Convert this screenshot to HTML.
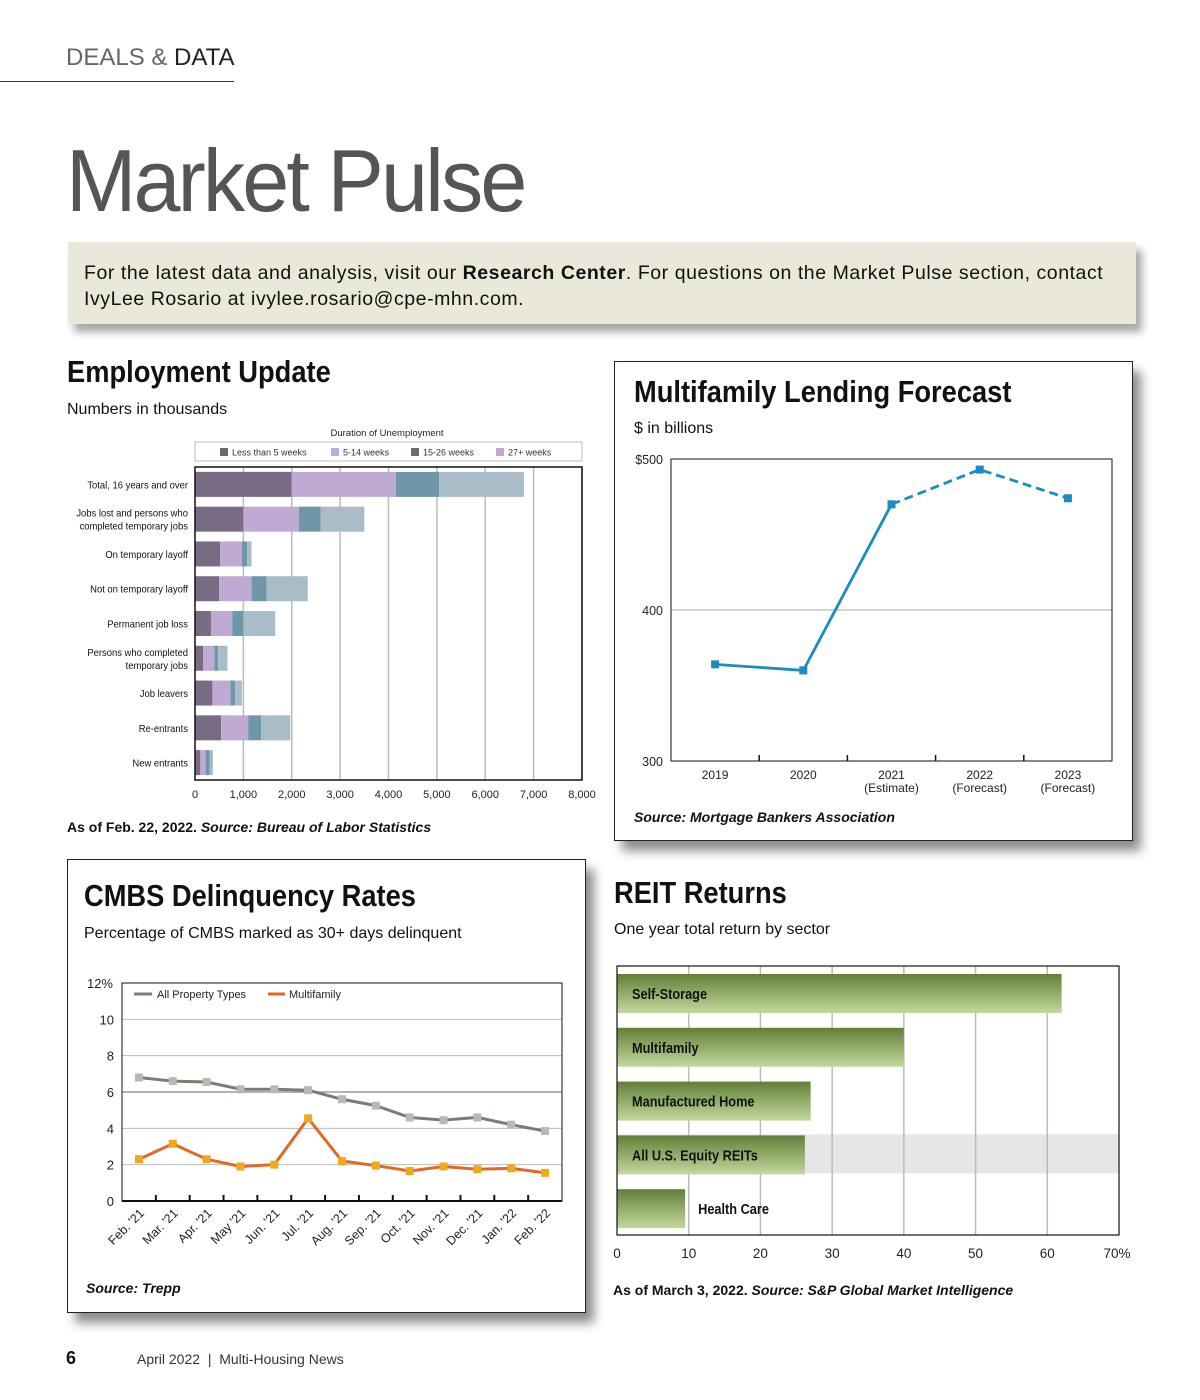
<!DOCTYPE html>
<html><head><meta charset="utf-8">
<style>
body{margin:0;background:#fff;}
#page{position:relative;width:1200px;height:1400px;overflow:hidden;background:#fff;font-family:"Liberation Sans",sans-serif;color:#111;}
.abs{position:absolute;}
.narrow{font-family:"Liberation Sans Narrow","Liberation Sans",sans-serif;font-weight:bold;transform:scaleX(0.88);transform-origin:left top;white-space:nowrap;}
.box{position:absolute;border:1px solid #222;background:#fff;box-shadow:8px 10px 10px rgba(0,0,0,0.45);}
svg text{font-family:"Liberation Sans",sans-serif;}
</style></head><body>
<div id="page">
<div class="abs" style="left:66px;top:44px;font-size:24px;color:#666;">DEALS &amp; <span style="color:#222">DATA</span></div>
<div class="abs" style="left:0;top:81px;width:234px;height:1px;background:#333;"></div>
<div class="abs" style="left:66px;top:130px;font-size:88px;font-weight:300;color:#555;letter-spacing:-3px;transform:scaleX(0.96);transform-origin:left top;white-space:nowrap;">Market Pulse</div>
<div class="abs" style="left:68px;top:242px;width:1052px;height:64px;padding:18px 0 0 16px;background:#e9e8d9;box-shadow:6px 8px 8px rgba(0,0,0,0.35);font-size:19.5px;line-height:26px;color:#111;letter-spacing:0.55px;">For the latest data and analysis, visit our <b>Research Center</b>. For questions on the Market Pulse section, contact IvyLee Rosario at ivylee.rosario@cpe-mhn.com.</div>

<!-- Employment -->
<div class="abs narrow" style="left:67px;top:354px;font-size:31px;">Employment Update</div>
<div class="abs" style="left:67px;top:401px;font-size:16px;">Numbers in thousands</div>
<svg class="abs" id="emp" style="left:0;top:0" width="600" height="820"></svg>
<div class="abs" style="left:67px;top:819px;font-size:14px;font-weight:bold;">As of Feb. 22, 2022. <i>Source: Bureau of Labor Statistics</i></div>

<!-- Lending -->
<div class="box" style="left:614px;top:361px;width:517px;height:478px;"></div>
<div class="abs narrow" style="left:634px;top:374px;font-size:31px;">Multifamily Lending Forecast</div>
<div class="abs" style="left:634px;top:420px;font-size:16px;">$ in billions</div>
<svg class="abs" id="lend" style="left:0;top:0" width="1200" height="820"></svg>
<div class="abs" style="left:634px;top:809px;font-size:14px;font-weight:bold;font-style:italic;">Source: Mortgage Bankers Association</div>

<!-- CMBS -->
<div class="box" style="left:67px;top:859px;width:517px;height:452px;"></div>
<div class="abs narrow" style="left:84px;top:878px;font-size:31px;">CMBS Delinquency Rates</div>
<div class="abs" style="left:84px;top:925px;font-size:16px;">Percentage of CMBS marked as 30+ days delinquent</div>
<svg class="abs" id="cmbs" style="left:0;top:0" width="600" height="1300"></svg>
<div class="abs" style="left:86px;top:1280px;font-size:14px;font-weight:bold;font-style:italic;">Source: Trepp</div>

<!-- REIT -->
<div class="abs narrow" style="left:614px;top:875px;font-size:31px;">REIT Returns</div>
<div class="abs" style="left:614px;top:921px;font-size:16px;">One year total return by sector</div>
<svg class="abs" id="reit" style="left:0;top:0" width="1200" height="1270"></svg>
<div class="abs" style="left:613px;top:1282px;font-size:14px;font-weight:bold;">As of March 3, 2022. <i>Source: S&amp;P Global Market Intelligence</i></div>

<div class="abs" style="left:66px;top:1348px;font-size:18px;font-weight:bold;">6</div>
<div class="abs" style="left:137px;top:1351px;font-size:14px;color:#333;">April 2022 &nbsp;|&nbsp; Multi-Housing News</div>
</div>
<script>
const NS="http://www.w3.org/2000/svg";
function mk(svg,tag,attrs,txt){const e=document.createElementNS(NS,tag);for(const k in attrs)e.setAttribute(k,attrs[k]);if(txt!==undefined)e.textContent=txt;svg.appendChild(e);return e;}

// ---------- Employment data ----------
const empCategories=[["Total, 16 years and over"],["Jobs lost and persons who","completed temporary jobs"],["On temporary layoff"],["Not on temporary layoff"],["Permanent job loss"],["Persons who completed","temporary jobs"],["Job leavers"],["Re-entrants"],["New entrants"]];
const empLess5=[2000,1000,520,500,330,170,360,540,110];
const emp5to14=[2150,1150,450,670,440,230,370,560,110];
const emp15to26=[900,450,110,310,230,80,100,270,80];
const emp27plus=[1750,900,90,850,660,190,140,600,70];
const empSeriesNames=["Less than 5 weeks","5-14 weeks","15-26 weeks","27+ weeks"];
const empTicks=[0,1000,2000,3000,4000,5000,6000,7000,8000];
(function(){
 const s=document.getElementById('emp');
 const x0=195,x1=582,y0=467,y1=780,max=8000;
 const X=v=>x0+(x1-x0)*v/max;
 const rowH=(y1-y0)/empCategories.length;
 const cols=["#7a6b84","#c0a9d2","#6f97a8","#aabcc7"];
 const legCols=["#6f6679","#c0a9d2","#6f6679","#c0a9d2"];
 mk(s,'text',{x:387,y:436,'font-size':9.5,'text-anchor':'middle',fill:'#222'},"Duration of Unemployment");
 const lb=mk(s,'rect',{x:195,y:442,width:387,height:19,fill:'#fff',stroke:'#bbb'});
 
 const lx=[220,331,411,496];
 empSeriesNames.forEach((n,i)=>{
  const r=mk(s,'rect',{x:lx[i],y:448,width:8,height:8,fill:legCols[i]});
  
  const t=mk(s,'text',{x:lx[i]+12,y:455.5,'font-size':9,fill:'#333'},n);
  
 });
 empTicks.forEach(v=>{
  if(v>0){const g=mk(s,'line',{x1:X(v),x2:X(v),y1:y0,y2:y1,stroke:'#bbb','stroke-width':1.5});}
  const t=mk(s,'text',{x:X(v),y:798,'font-size':11,'text-anchor':'middle',fill:'#222'},v.toLocaleString('en-US'));
  
 });
 const series=[empLess5,emp5to14,emp15to26,emp27plus];
 empCategories.forEach((c,i)=>{
  const cy=y0+rowH*(i+0.5);
  let acc=0;
  series.forEach((arr,k)=>{
   const b=mk(s,'rect',{x:X(acc),y:cy-12.5,width:X(acc+arr[i])-X(acc),height:25,fill:cols[k]});
   
   acc+=arr[i];
  });
  c.forEach((ln,j)=>{
   const ty=cy+4+(j-(c.length-1)/2)*13;
   const t=mk(s,'text',{x:188,y:ty,'font-size':10.5,'text-anchor':'end',fill:'#111',transform:`translate(188 0) scale(0.9 1) translate(-188 0)`},ln);
   
  });
 });
 const fr=mk(s,'rect',{x:x0,y:y0,width:x1-x0,height:y1-y0,fill:'none',stroke:'#111','stroke-width':1.5});
 
})();

// ---------- Lending data ----------
const lendYears=["2019","2020","2021","2022","2023"];
const lendSub=["","","(Estimate)","(Forecast)","(Forecast)"];
const lendValues=[364,360,470,493,474];
const lendTicks=[300,400,500];
(function(){
 const s=document.getElementById('lend');
 const x0=671,x1=1112,yTop=459,yBot=761;
 const Y=v=>yBot-(yBot-yTop)*(v-300)/200;
 const step=(x1-x0)/lendYears.length;
 const X=i=>x0+step*(i+0.5);
 const g=mk(s,'line',{x1:x0,x2:x1,y1:Y(400),y2:Y(400),stroke:'#aaa'});
 mk(s,'rect',{x:x0,y:yTop,width:x1-x0,height:yBot-yTop,fill:'none',stroke:'#111','stroke-width':1});
 lendTicks.forEach(v=>{const t=mk(s,'text',{x:663,y:Y(v)+5,'font-size':12.5,'text-anchor':'end',fill:'#222'},(v===500?'$':'')+v);});
 lendYears.forEach((yr,i)=>{
  if(i>0){mk(s,'line',{x1:x0+step*i,x2:x0+step*i,y1:yBot,y2:yBot-6,stroke:'#111','stroke-width':1.5});}
  const t=mk(s,'text',{x:X(i),y:779,'font-size':12,'text-anchor':'middle',fill:'#222'},yr);
  if(lendSub[i]){const t2=mk(s,'text',{x:X(i),y:792,'font-size':12,'text-anchor':'middle',fill:'#222'},lendSub[i]);}
 });
 const solid=lendValues.slice(0,3).map((v,i)=>X(i)+','+Y(v)).join(' ');
 const dashed=lendValues.slice(2).map((v,i)=>X(i+2)+','+Y(v)).join(' ');
 mk(s,'polyline',{points:solid,fill:'none',stroke:'#1a8cc4','stroke-width':2.8});
 mk(s,'polyline',{points:dashed,fill:'none',stroke:'#1a8cc4','stroke-width':2.8,'stroke-dasharray':'9 5'});
 lendValues.forEach((v,i)=>{const p=mk(s,'rect',{x:X(i)-4,y:Y(v)-4,width:8,height:8,fill:'#1a8cc4'});});
})();

// ---------- CMBS data ----------
const cmbsMonths=["Feb. '21","Mar. '21","Apr. '21","May '21","Jun. '21","Jul. '21","Aug. '21","Sep. '21","Oct. '21","Nov. '21","Dec. '21","Jan. '22","Feb. '22"];
const cmbsAll=[6.8,6.6,6.55,6.15,6.15,6.1,5.6,5.25,4.6,4.45,4.6,4.2,3.85];
const cmbsMulti=[2.3,3.15,2.3,1.9,2.0,4.55,2.2,1.95,1.65,1.9,1.75,1.8,1.55];
const cmbsTicks=[0,2,4,6,8,10,12];
(function(){
 const s=document.getElementById('cmbs');
 const x0=122,x1=562,yTop=983,yBot=1201;
 const Y=v=>yBot-(yBot-yTop)*v/12;
 const step=(x1-x0)/cmbsMonths.length;
 const X=i=>x0+step*(i+0.5);
 cmbsTicks.forEach(v=>{
  if(v>0&&v<12){mk(s,'line',{x1:x0,x2:x1,y1:Y(v),y2:Y(v),stroke:v===6?'#999':'#bbb','stroke-width':v===6?1.5:1});}
  const t=mk(s,'text',{x:v===12?113:114,y:Y(v)+5,'font-size':13,'text-anchor':'end',fill:'#222'},v+(v===12?'%':''));
 });
 mk(s,'rect',{x:x0,y:yTop,width:x1-x0,height:yBot-yTop,fill:'none',stroke:'#111','stroke-width':1});
 mk(s,'line',{x1:x0,x2:x1,y1:yBot,y2:yBot,stroke:'#111','stroke-width':2});
 cmbsMonths.forEach((m,i)=>{
  if(i>0){mk(s,'line',{x1:x0+step*i,x2:x0+step*i,y1:yBot,y2:yBot-6,stroke:'#111','stroke-width':2});}
  const t=mk(s,'text',{x:X(i)+6,y:1214,'font-size':12.5,'text-anchor':'end',fill:'#222',transform:`rotate(-45 ${X(i)+6} 1214)`},m);
 });
 mk(s,'polyline',{points:cmbsAll.map((v,i)=>X(i)+','+Y(v)).join(' '),fill:'none',stroke:'#7d7b72','stroke-width':3});
 mk(s,'polyline',{points:cmbsMulti.map((v,i)=>X(i)+','+Y(v)).join(' '),fill:'none',stroke:'#e06a25','stroke-width':3});
 cmbsAll.forEach((v,i)=>{const p=mk(s,'rect',{x:X(i)-4,y:Y(v)-4,width:8,height:8,fill:'#b9b8b3'});});
 cmbsMulti.forEach((v,i)=>{const p=mk(s,'rect',{x:X(i)-4,y:Y(v)-4,width:8,height:8,fill:'#f0a81e'});});
 mk(s,'line',{x1:134,x2:152,y1:994,y2:994,stroke:'#7d7b72','stroke-width':3});
 mk(s,'text',{x:157,y:998,'font-size':11,fill:'#222'},"All Property Types");
 mk(s,'line',{x1:268,x2:285,y1:994,y2:994,stroke:'#e06a25','stroke-width':3});
 mk(s,'text',{x:289,y:998,'font-size':11,fill:'#222'},"Multifamily");
})();

// ---------- REIT data ----------
const reitSectors=["Self-Storage","Multifamily","Manufactured Home","All U.S. Equity REITs","Health Care"];
const reitValues=[62,40,27,26.2,9.5];
const reitTicks=[0,10,20,30,40,50,60,70];
(function(){
 const s=document.getElementById('reit');
 const x0=617,x1=1119,yTop=966,yBot=1235;
 const X=v=>x0+(x1-x0)*v/70;
 const rowH=(yBot-yTop)/reitSectors.length;
 const defs=mk(s,'defs',{});
 const gr=mk(defs,'linearGradient',{id:'green',x1:0,y1:0,x2:0,y2:1});
 mk(gr,'stop',{offset:'0','stop-color':'#627f39'});
 mk(gr,'stop',{offset:'1','stop-color':'#c4d89c'});
 mk(s,'rect',{x:x0,y:yTop+rowH*3+7,width:x1-x0,height:39,fill:'#e6e6e8'});
 reitTicks.forEach(v=>{
  if(v>0&&v<70){mk(s,'line',{x1:X(v),x2:X(v),y1:yTop,y2:yBot,stroke:'#bbb','stroke-width':1.5});}
  const t=mk(s,'text',{x:X(v)+(v===70?-2:0),y:1258,'font-size':13.5,'text-anchor':'middle',fill:'#222'},v+(v===70?'%':''));
 });
 reitSectors.forEach((n,i)=>{
  const yb=yTop+rowH*i+8;
  const b=mk(s,'rect',{x:x0,y:yb,width:X(reitValues[i])-x0,height:39,fill:'url(#green)'});
  
  const inside=X(reitValues[i])-x0>120;
  const tx=inside?632:X(reitValues[i])+13;
  const t=mk(s,'text',{x:tx,y:yb+25,'font-size':14.5,'font-weight':'bold',fill:'#111',transform:`translate(${tx} 0) scale(0.88 1) translate(${-tx} 0)`},n);
  
 });
 mk(s,'rect',{x:x0,y:yTop,width:x1-x0,height:yBot-yTop,fill:'none',stroke:'#111','stroke-width':1.2});
})();
</script>
</body></html>
